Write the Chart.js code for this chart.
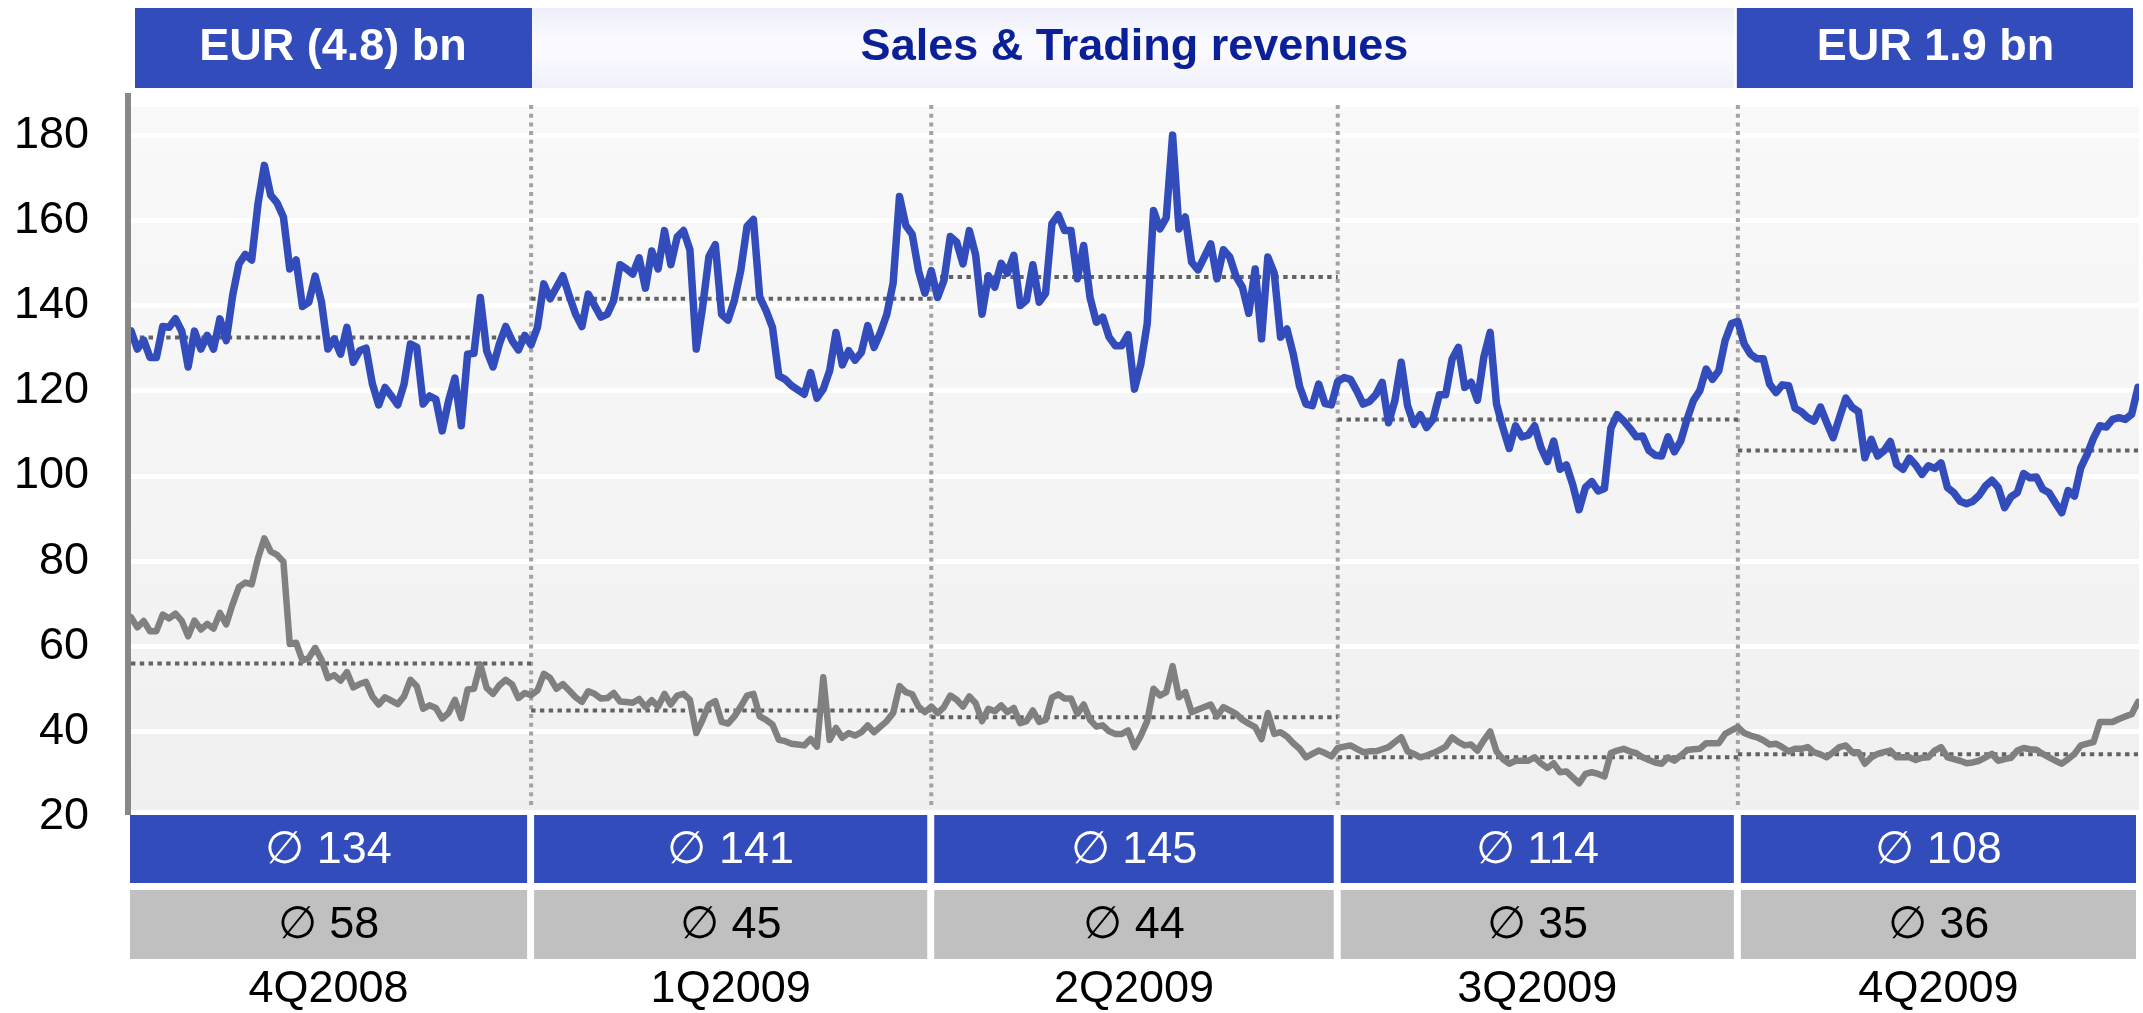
<!DOCTYPE html>
<html>
<head>
<meta charset="utf-8">
<title>Sales &amp; Trading revenues</title>
<script src="https://cdn.jsdelivr.net/npm/chart.js@4.4.1/dist/chart.umd.min.js"></script>
<style>
  html, body { margin: 0; padding: 0; background: #fff; }
  #wrap { width: 2143px; height: 1013px; position: relative; }
</style>
</head>
<body>
<div id="wrap"><canvas id="chart"></canvas></div>
<script>
// quarters and the index of the last trading day in each one
const quarters = ["4Q2008", "1Q2009", "2Q2009", "3Q2009", "4Q2009"];
const quarterEnds = [63, 126, 190, 253, 316];

// upper (blue) daily series
const upperValues = [
  // 4Q2008
  134.1, 129.8, 131.9, 127.8, 127.8, 135.1, 134.9, 136.9, 134.0, 125.6,
  134.0, 129.8, 133.0, 129.8, 136.9, 131.8, 142.3, 149.8, 152.0, 150.7,
  163.9, 172.9, 165.9, 164.1, 160.8, 148.6, 150.7, 139.8, 140.8, 146.9,
  140.8, 129.8, 132.2, 128.6, 134.9, 126.7, 129.4, 130.0, 121.7, 116.7,
  120.8, 118.8, 116.7, 121.6, 131.0, 130.2, 116.9, 118.8, 118.0, 110.6,
  117.6, 123.0, 111.8, 128.6, 128.8, 141.9, 129.4, 125.6, 131.0, 135.1,
  131.8, 129.6, 133.0, 130.8,
  // 1Q2009
  134.9, 145.1, 141.6, 144.3, 147.0, 142.3, 138.0, 135.1, 142.7, 140.0,
  137.3, 138.0, 141.2, 149.6, 148.6, 147.4, 151.2, 144.1, 152.8, 148.6,
  157.6, 149.6, 156.1, 157.6, 153.1, 129.8, 139.6, 151.5, 154.3, 137.9,
  136.6, 141.2, 148.2, 158.6, 160.2, 141.9, 138.8, 134.9, 123.5, 122.7,
  121.2, 120.2, 119.2, 124.3, 118.3, 120.4, 124.7, 133.7, 126.1, 129.4,
  127.2, 129.0, 135.3, 130.2, 133.7, 137.9, 145.3, 165.6, 158.8, 156.7,
  148.2, 142.9, 148.2,
  // 2Q2009
  141.9, 145.9, 156.2, 154.9, 149.8, 157.6, 151.8, 138.0, 147.0, 144.3,
  149.9, 147.6, 151.8, 140.0, 141.3, 149.6, 140.8, 142.9, 159.2, 161.3,
  157.6, 157.6, 146.3, 154.1, 141.9, 136.1, 137.3, 132.6, 130.6, 130.6,
  133.2, 120.4, 126.3, 135.7, 162.3, 158.0, 160.6, 180.0, 158.0, 160.8,
  150.2, 148.4, 151.4, 154.5, 146.3, 153.1, 151.4, 146.8, 144.3, 138.2,
  148.6, 132.2, 151.4, 147.6, 132.6, 134.5, 128.6, 121.0, 116.9, 116.5,
  121.6, 117.0, 116.7, 122.2,
  // 3Q2009
  123.1, 122.7, 120.0, 116.9, 117.5, 119.1, 122.0, 112.5, 117.7, 126.7,
  116.5, 112.1, 114.4, 111.4, 113.3, 119.1, 119.1, 127.4, 130.2, 120.8,
  122.0, 117.8, 127.9, 133.7, 116.9, 111.4, 106.5, 111.8, 109.2, 109.6,
  111.8, 106.7, 103.4, 108.2, 101.6, 102.6, 98.0, 92.1, 97.3, 98.7,
  96.5, 97.1, 111.2, 114.4, 113.0, 111.2, 109.2, 109.4, 106.0, 104.9,
  104.7, 109.2, 105.7, 108.2, 113.3, 117.7, 120.0, 125.1, 122.7, 124.7,
  131.8, 135.8, 136.3,
  // 4Q2009
  131.0, 128.6, 127.5, 127.5, 121.6, 119.6, 121.4, 121.2, 115.9, 115.1,
  113.7, 112.9, 116.2, 112.5, 109.0, 113.7, 118.3, 116.1, 115.1, 104.3,
  108.6, 104.7, 105.9, 108.1, 102.7, 101.6, 104.2, 102.6, 100.4, 102.4,
  101.8, 103.1, 97.3, 96.1, 94.1, 93.5, 94.1, 95.5, 97.7, 99.0,
  97.3, 92.6, 95.1, 96.1, 100.6, 99.6, 99.8, 96.9, 96.1, 93.7,
  91.4, 96.6, 95.3, 102.0, 105.1, 108.9, 111.8, 111.5, 113.3, 113.7,
  113.3, 114.5, 120.8
];

// lower (grey) daily series
const lowerValues = [
  // 4Q2008
  66.9, 64.5, 66.0, 63.6, 63.6, 67.5, 66.6, 67.7, 66.0, 62.4,
  66.1, 64.0, 65.3, 64.2, 67.9, 65.2, 69.9, 74.0, 75.0, 74.6,
  80.7, 85.4, 82.3, 81.5, 79.9, 60.6, 60.9, 56.7, 57.3, 59.7,
  56.9, 52.6, 53.3, 52.0, 54.0, 50.4, 51.2, 51.7, 48.3, 46.4,
  48.1, 47.3, 46.5, 48.3, 52.2, 50.7, 45.4, 46.2, 45.6, 43.1,
  44.4, 47.5, 43.2, 49.9, 50.1, 55.8, 50.3, 48.9, 50.9, 52.2,
  51.1, 47.9, 49.1, 48.6,
  // 1Q2009
  49.7, 53.6, 52.6, 50.1, 51.2, 49.7, 48.1, 47.0, 49.5, 48.9,
  47.8, 47.9, 49.1, 47.1, 47.0, 46.8, 47.7, 45.8, 47.4, 45.9,
  48.9, 46.4, 48.5, 48.9, 47.5, 39.7, 42.8, 46.4, 47.2, 42.3,
  41.9, 43.6, 45.9, 48.5, 48.9, 43.6, 42.8, 41.7, 38.1, 37.8,
  37.2, 37.0, 36.8, 38.3, 36.5, 52.8, 38.1, 40.9, 38.6, 39.7,
  39.1, 39.9, 41.5, 39.9, 41.2, 42.5, 44.4, 50.7, 49.3, 48.8,
  45.9, 44.6, 45.9,
  // 2Q2009
  44.4, 45.8, 48.5, 47.5, 45.9, 48.3, 46.7, 42.5, 45.4, 44.8,
  46.2, 44.6, 45.6, 42.0, 42.5, 45.0, 42.3, 42.8, 48.0, 48.8,
  47.8, 47.8, 44.2, 46.4, 42.8, 41.2, 41.5, 40.1, 39.5, 39.5,
  40.3, 36.4, 39.1, 42.5, 50.1, 48.5, 49.3, 55.4, 48.1, 49.3,
  44.6, 45.2, 45.8, 46.4, 43.6, 45.8, 45.0, 44.2, 42.8, 41.9,
  41.1, 38.3, 44.4, 39.5, 39.9, 38.9, 37.3, 36.0, 34.0, 34.8,
  35.6, 35.0, 34.2, 36.2,
  // 3Q2009
  36.5, 36.8, 36.0, 35.2, 35.4, 35.4, 35.9, 36.4, 37.6, 38.7,
  35.4, 34.8, 34.0, 34.4, 35.0, 35.7, 36.5, 38.7, 37.6, 36.8,
  37.0, 35.6, 38.0, 40.1, 35.4, 33.6, 32.5, 33.2, 33.2, 33.2,
  34.0, 32.6, 31.5, 32.6, 30.5, 30.7, 29.3, 27.9, 30.1, 30.5,
  30.1, 29.5, 35.0, 35.6, 36.0, 35.4, 35.0, 34.0, 33.4, 32.8,
  32.5, 34.0, 33.2, 34.4, 35.7, 35.9, 36.0, 37.3, 37.3, 37.3,
  39.5, 40.3, 41.1,
  // 4Q2009
  39.7, 39.1, 38.7, 38.0, 37.0, 37.2, 36.4, 35.4, 36.0, 36.0,
  36.4, 35.2, 34.7, 34.0, 35.2, 36.4, 36.8, 35.2, 35.2, 32.5,
  34.0, 34.8, 35.2, 35.6, 34.0, 34.0, 34.0, 33.4, 33.9, 34.0,
  35.6, 36.4, 34.0, 33.6, 33.2, 32.6, 32.8, 33.2, 34.0, 34.8,
  33.2, 33.6, 33.9, 35.6, 36.2, 35.9, 35.8, 34.8, 34.0, 33.2,
  32.5, 33.6, 34.8, 36.8, 37.2, 37.6, 42.3, 42.3, 42.3, 43.0,
  43.6, 44.1, 47.0
];

// quarter averages: level of the dotted lines and the printed figures
const upperAvg = [132.5, 141.6, 146.7, 113.3, 106.0];
const lowerAvg = [56.0, 45.0, 43.4, 34.0, 34.7];
const upperAvgLabels = ["134", "141", "145", "114", "108"];
const lowerAvgLabels = ["58", "45", "44", "35", "36"];

const bannerLeft = "EUR (4.8) bn";
const bannerTitle = "Sales & Trading revenues";
const bannerRight = "EUR 1.9 bn";

const yTicks = [20, 40, 60, 80, 100, 120, 140, 160, 180];

const BLUE = "#334cbb";
const GREY = "#808080";
const FONT = '"Liberation Sans", Arial, Helvetica, sans-serif';

Chart.defaults.font.family = FONT;

const toPoints = arr => arr.map((v, i) => ({ x: i, y: v }));
const quarterStart = q => (q === 0 ? 0 : quarterEnds[q - 1]);

function avgDatasets(avgs) {
  return avgs.map((v, q) => ({
    data: [{ x: quarterStart(q), y: v }, { x: quarterEnds[q], y: v }],
    borderColor: "#626262",
    borderWidth: 4,
    borderDash: [4.4, 4.4],
    pointRadius: 0,
    order: 2
  }));
}

function text(ctx, str, x, y, font, color) {
  ctx.font = font;
  ctx.fillStyle = color;
  ctx.textAlign = "center";
  ctx.textBaseline = "middle";
  ctx.fillText(str, x, y);
}

const decor = {
  id: "decor",
  beforeDraw(chart) {
    const { ctx, chartArea: a } = chart;
    const bottom = a.bottom - 7;
    const g = ctx.createLinearGradient(0, a.top, 0, bottom);
    g.addColorStop(0, "#f9f9f9");
    g.addColorStop(1, "#f0f0f0");
    ctx.save();
    ctx.fillStyle = g;
    ctx.fillRect(a.left + 3, a.top, a.right - a.left - 3, bottom - a.top);
    ctx.restore();
  },
  beforeDatasetsDraw(chart) {
    const { ctx, chartArea: a, scales } = chart;
    ctx.save();
    ctx.strokeStyle = "#a2a2aa";
    ctx.lineWidth = 4;
    ctx.setLineDash([4, 4.7]);
    quarterEnds.slice(0, 4).forEach(d => {
      const x = scales.x.getPixelForValue(d);
      ctx.beginPath();
      ctx.moveTo(x, a.top - 2);
      ctx.lineTo(x, a.bottom - 12);
      ctx.stroke();
    });
    ctx.restore();
  },
  afterDraw(chart) {
    const { ctx, chartArea: a, scales } = chart;
    const divs = quarterEnds.slice(0, 4).map(d => scales.x.getPixelForValue(d));
    ctx.save();

    // y axis line
    ctx.fillStyle = "#888888";
    ctx.fillRect(a.left - 3, a.top - 14, 6, a.bottom - a.top + 12);

    // banner
    const bTop = 8, bBot = 88, bMid = 48;
    ctx.fillStyle = BLUE;
    ctx.fillRect(a.left + 7, bTop, divs[0] + 1 - (a.left + 7), bBot - bTop);
    const lg = ctx.createLinearGradient(0, bTop, 0, bBot);
    lg.addColorStop(0, "#efeffc");
    lg.addColorStop(0.5, "#fbfbff");
    lg.addColorStop(1, "#f0f0fb");
    ctx.fillStyle = lg;
    ctx.fillRect(divs[0] + 1, bTop, divs[3] - 4 - (divs[0] + 1), bBot - bTop);
    ctx.fillStyle = BLUE;
    ctx.fillRect(divs[3] - 1, bTop, a.right - 6 - (divs[3] - 1), bBot - bTop);
    text(ctx, bannerLeft, (a.left + 7 + divs[0]) / 2, bMid, "bold 45px " + FONT, "#ffffff");
    text(ctx, bannerTitle, (divs[0] + divs[3]) / 2, bMid, "bold 45px " + FONT, "#0b1f96");
    text(ctx, bannerRight, (divs[3] + a.right - 6) / 2, bMid, "bold 45px " + FONT, "#ffffff");

    // average boxes and quarter labels
    quarters.forEach((q, i) => {
      const x1 = i === 0 ? a.left + 2 : divs[i - 1] + 3;
      const x2 = i === 4 ? a.right - 3 : divs[i] - 4;
      const cx = (x1 + x2) / 2;
      ctx.fillStyle = BLUE;
      ctx.fillRect(x1, 815, x2 - x1, 68);
      ctx.fillStyle = "#c0c0c0";
      ctx.fillRect(x1, 890, x2 - x1, 69);
      text(ctx, "\u2205 " + upperAvgLabels[i], cx, 851, "45px " + FONT, "#ffffff");
      text(ctx, "\u2205 " + lowerAvgLabels[i], cx, 926, "45px " + FONT, "#000000");
      text(ctx, q, cx, 990, "45px " + FONT, "#000000");
    });
    ctx.restore();
  }
};

new Chart(document.getElementById("chart"), {
  type: "line",
  data: {
    datasets: [
      {
        data: toPoints(upperValues),
        borderColor: BLUE,
        borderWidth: 7.5,
        pointRadius: 0,
        borderJoinStyle: "round",
        borderCapStyle: "round",
        order: 0
      },
      {
        data: toPoints(lowerValues),
        borderColor: GREY,
        borderWidth: 6.5,
        pointRadius: 0,
        borderJoinStyle: "round",
        borderCapStyle: "round",
        order: 1
      },
      ...avgDatasets(upperAvg),
      ...avgDatasets(lowerAvg)
    ]
  },
  options: {
    responsive: true,
    maintainAspectRatio: false,
    devicePixelRatio: 1,
    animation: false,
    layout: { padding: { top: 107, bottom: 196, left: 0, right: 4 } },
    plugins: {
      legend: { display: false },
      tooltip: { enabled: false }
    },
    scales: {
      x: { type: "linear", display: false, min: -0.47, max: 316.16 },
      y: {
        min: 20,
        max: 186.6,
        afterFit: s => { s.width = 128; },
        afterBuildTicks: s => { s.ticks = yTicks.map(v => ({ value: v })); },
        grid: { color: "#ffffff", lineWidth: 5, drawTicks: false },
        border: { display: false },
        ticks: { padding: 39, color: "#000000", font: { size: 45 } }
      }
    }
  },
  plugins: [decor]
});
</script>
</body>
</html>
